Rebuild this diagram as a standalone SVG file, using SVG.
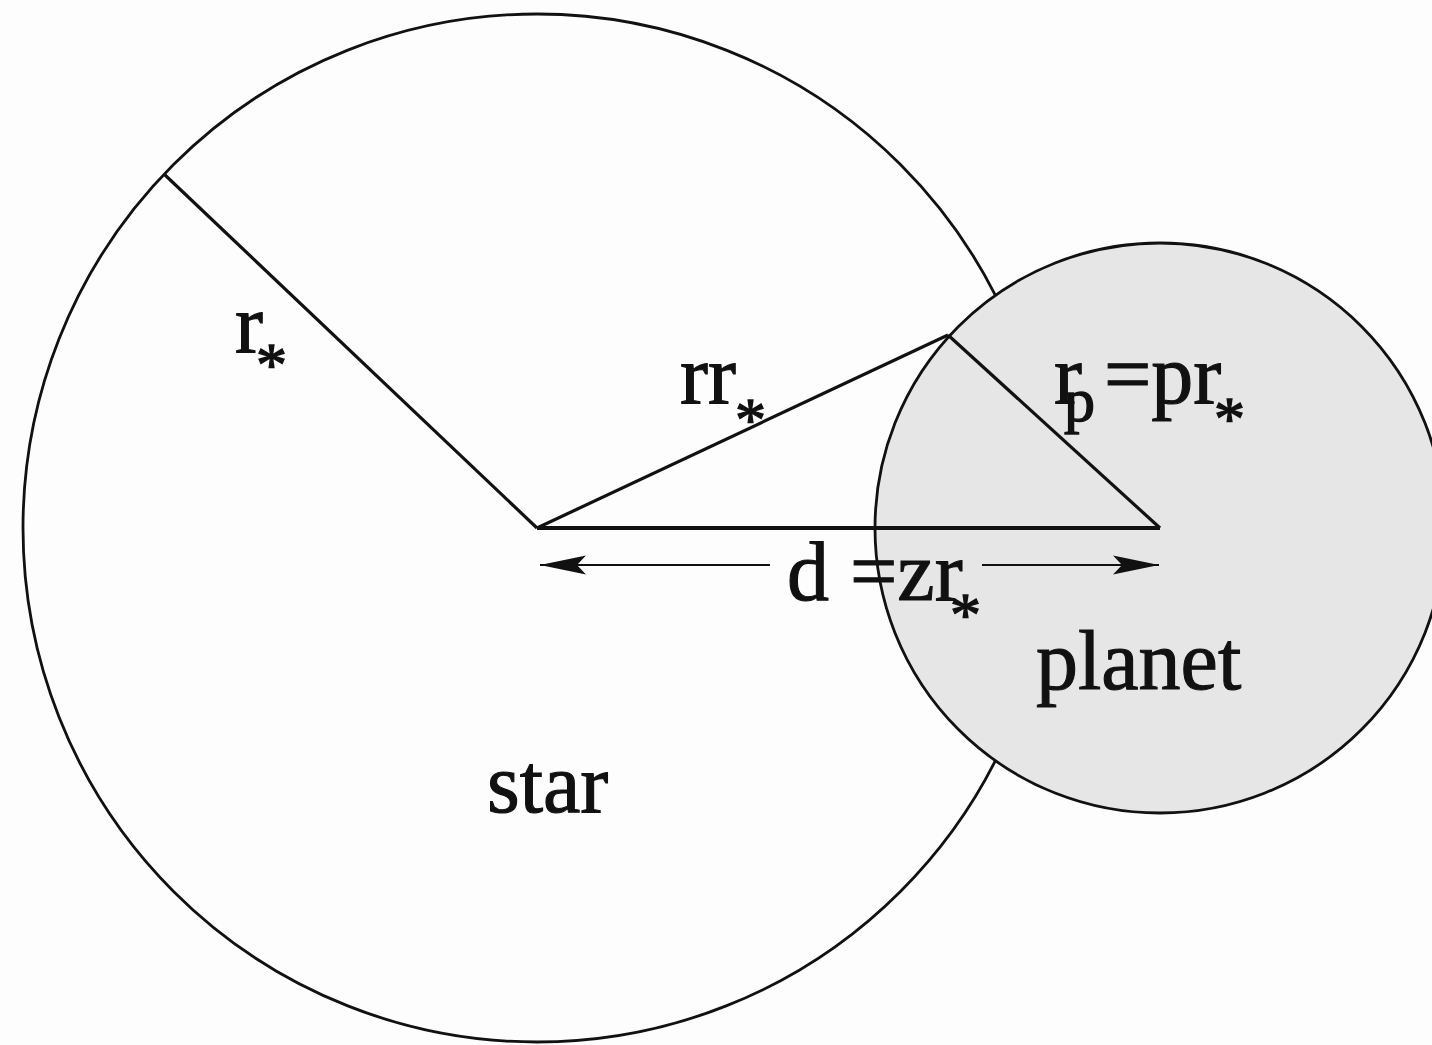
<svg xmlns="http://www.w3.org/2000/svg" width="1432" height="1045" viewBox="0 0 1432 1045">
<style>
.outline{stroke:#111;stroke-width:2.8}
.edge{stroke:#111;stroke-width:3.2;fill:none}
.dim{stroke:#111;stroke-width:2.2;fill:none}
.lbl{font-family:"Liberation Serif","Times New Roman",serif;font-size:84px;fill:#111;stroke:#111;stroke-width:1.1}
.sub{font-size:62px;stroke-width:1.4}
</style>
<defs>
<marker id="arrow" markerUnits="userSpaceOnUse" viewBox="0 0 46 22" refX="46" refY="11" markerWidth="46" markerHeight="22" orient="auto-start-reverse">
<path d="M0,1.5 L46,11 L0,20.5 L9,11 Z" fill="#111"/>
</marker>
</defs>
<rect width="1432" height="1045" fill="#fdfdfd"/>
<g id="star">
<circle cx="537" cy="528" r="514" fill="#fdfdfd" class="outline"/>
<text class="lbl" x="487" y="812">star</text>
</g>
<g id="planet">
<circle cx="1160" cy="528" r="285" fill="#e6e6e6" class="outline"/>
<text class="lbl" x="1036" y="689">planet</text>
</g>
<g id="connectors">
<line class="edge" x1="165" y1="175" x2="537" y2="528"/>
<line class="edge" x1="537" y1="528" x2="948" y2="335"/>
<line class="edge" x1="948" y1="335" x2="1160" y2="528"/>
<line class="edge" x1="537" y1="528" x2="1160" y2="528" style="stroke-width:3.8"/>
<line class="dim" x1="540" y1="565" x2="770" y2="565" marker-start="url(#arrow)"/>
<line class="dim" x1="982" y1="565" x2="1159" y2="565" marker-end="url(#arrow)"/>
</g>
<g id="labels">
<text class="lbl" x="235" y="352">r</text>
<text class="lbl sub" x="256" y="385">*</text>
<text class="lbl" x="680" y="403">rr</text>
<text class="lbl sub" x="735" y="440">*</text>
<text class="lbl" x="1054" y="403">r</text>
<text class="lbl sub" x="1064" y="421">p</text>
<text class="lbl" x="1104" y="403">=pr</text>
<text class="lbl sub" x="1214" y="439">*</text>
<text class="lbl" x="787" y="600">d =zr</text>
<text class="lbl sub" x="950" y="635">*</text>
</g>
</svg>
